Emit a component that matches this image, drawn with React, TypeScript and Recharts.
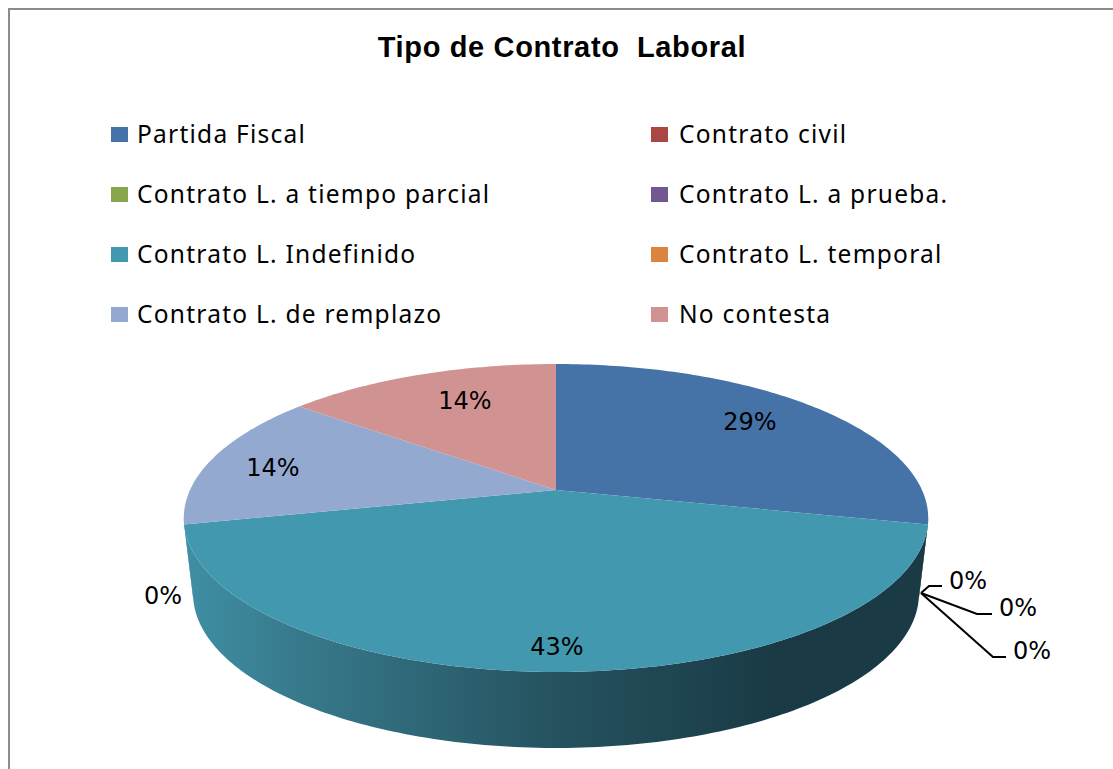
import React from 'react';
import { PieChart, Pie, Legend } from 'recharts';

const categories = [
  'Partida Fiscal',
  'Contrato civil',
  'Contrato L. a tiempo parcial',
  'Contrato L. a prueba.',
  'Contrato L. Indefinido',
  'Contrato L. temporal',
  'Contrato L. de remplazo',
  'No contesta',
];
const counts = [2, 0, 0, 0, 3, 0, 1, 1];
const colors = ['#4572A7', '#AA4643', '#89A54E', '#71588F', '#4198AF', '#DB843D', '#93A9CF', '#D19392'];

const tableData = categories.map((name, i) => ({ name, value: counts[i], fill: colors[i] }));

// where each percentage sits, same order as categories
const labelSpots = [
  { x: 750, y: 422 },
  { x: 968, y: 581, leader: [[929, 586], [942, 586]] },
  { x: 1018, y: 608, leader: [[977, 614], [992, 614]] },
  { x: 1032, y: 651, leader: [[993, 657], [1006, 657]] },
  { x: 557, y: 647 },
  { x: 163, y: 596 },
  { x: 273, y: 468 },
  { x: 465, y: 401 },
];
const leaderOrigin = [921, 593];

// tilted disc with perspective: near side of the pie is drawn bigger than the far side
const TILT = 0.4068;
const PERSPECTIVE = 0.1818;
const WALL_DEPTH = 76;
const WALL_SHRINK = 0.975;
const FRONT_FROM = 100.5;
const FRONT_TO = 259.5;

const project = (cx: number, cy: number, r: number, deg: number) => {
  const rad = (deg * Math.PI) / 180;
  const u = Math.sin(rad);
  const v = -Math.cos(rad);
  const d = 1 - PERSPECTIVE * v;
  return { x: cx + (r * u) / d, y: cy + (r * TILT * v) / d };
};

const arcPoints = (cx: number, cy: number, r: number, from: number, to: number) => {
  const pts = [];
  const n = Math.max(2, Math.ceil(Math.abs(to - from)));
  for (let i = 0; i <= n; i++) pts.push(project(cx, cy, r, from + ((to - from) * i) / n));
  return pts;
};

const toPath = (pts: { x: number; y: number }[]) =>
  pts.map((p, i) => `${i ? 'L' : 'M'}${p.x.toFixed(2)} ${p.y.toFixed(2)}`).join(' ') + ' Z';

const Slice3D = (props: any) => {
  const { cx, cy, outerRadius, startAngle, endAngle, fill, value } = props;
  if (!value) return <g />;
  const from = 90 - startAngle;
  const to = 90 - endAngle;
  const wallFrom = Math.max(from, FRONT_FROM);
  const wallTo = Math.min(to, FRONT_TO);
  let wall = null;
  if (wallTo > wallFrom) {
    const topArc = arcPoints(cx, cy, outerRadius, wallFrom, wallTo);
    const lowArc = topArc
      .map((p) => ({ x: cx + (p.x - cx) * WALL_SHRINK, y: p.y + WALL_DEPTH }))
      .reverse();
    wall = <path d={toPath([...topArc, ...lowArc])} fill="url(#wallShade)" />;
  }
  const top = [{ x: cx, y: cy }, ...arcPoints(cx, cy, outerRadius, from, to)];
  return (
    <g>
      {wall}
      <path d={toPath(top)} fill={fill} />
    </g>
  );
};

const renderLabel = (props: any) => {
  const spot = labelSpots[props.index];
  return (
    <g key={props.index}>
      {spot.leader && (
        <polyline
          points={[leaderOrigin, ...spot.leader].map((p) => p.join(',')).join(' ')}
          fill="none"
          stroke="#000"
          strokeWidth={2}
        />
      )}
      <text
        x={spot.x}
        y={spot.y}
        textAnchor="middle"
        dominantBaseline="central"
        fontFamily="DejaVu Sans"
        fontSize={24}
        fill="#000"
      >
        {Math.round(props.percent * 100)}%
      </text>
    </g>
  );
};

const LegendGrid = ({ payload }: any) => (
  <div
    style={{
      display: 'grid',
      gridTemplateColumns: '540px 1fr',
      gridAutoRows: '60px',
      marginLeft: 111,
      fontFamily: 'Noto Sans',
      fontSize: 24.5,
      color: '#000',
    }}
  >
    {(payload || []).map((entry: any, i: number) => (
      <div key={entry.value} style={{ display: 'flex', alignItems: 'center', height: 60 }}>
        <span style={{ width: 17, height: 15, background: entry.color, marginRight: i % 2 ? 11 : 9, flex: 'none' }} />
        <span style={{ whiteSpace: 'nowrap', letterSpacing: 1.25, position: 'relative', top: -1 }}>{entry.value}</span>
      </div>
    ))}
  </div>
);

export default function App() {
  return (
    <div style={{ position: 'absolute', left: 0, top: 0, width: 1113, height: 769, overflow: 'hidden', background: '#fff' }}>
      <PieChart width={1113} height={769} margin={{ top: 0, right: 0, bottom: 0, left: 0 }}>
        <defs>
          <linearGradient id="wallShade" gradientUnits="userSpaceOnUse" x1="184" y1="0" x2="928" y2="0">
            <stop offset="0" stopColor="#3f8fa4" />
            <stop offset="0.16" stopColor="#37798b" />
            <stop offset="0.5" stopColor="#25525f" />
            <stop offset="0.8" stopColor="#193a45" />
            <stop offset="1" stopColor="#1a3b46" />
          </linearGradient>
        </defs>
        <rect x={9} y={9} width={1300} height={900} fill="none" stroke="#8c8c8c" strokeWidth={2} />
        <text
          x={562}
          y={57}
          textAnchor="middle"
          fontFamily="Liberation Sans"
          fontWeight="bold"
          fontSize={29}
          letterSpacing={0.65}
          fill="#000"
          style={{ whiteSpace: 'pre' }}
        >
          Tipo de Contrato  Laboral
        </text>
        <Legend
          content={<LegendGrid />}
          itemSorter={null}
          wrapperStyle={{ position: 'absolute', left: 0, top: 104, width: 1113, height: 240 }}
        />
        <Pie
          data={tableData}
          dataKey="value"
          nameKey="name"
          cx={556}
          cy={490}
          outerRadius={366}
          startAngle={90}
          endAngle={-270}
          stroke="none"
          shape={Slice3D}
          label={renderLabel}
          labelLine={false}
          isAnimationActive={false}
        />
      </PieChart>
    </div>
  );
}
